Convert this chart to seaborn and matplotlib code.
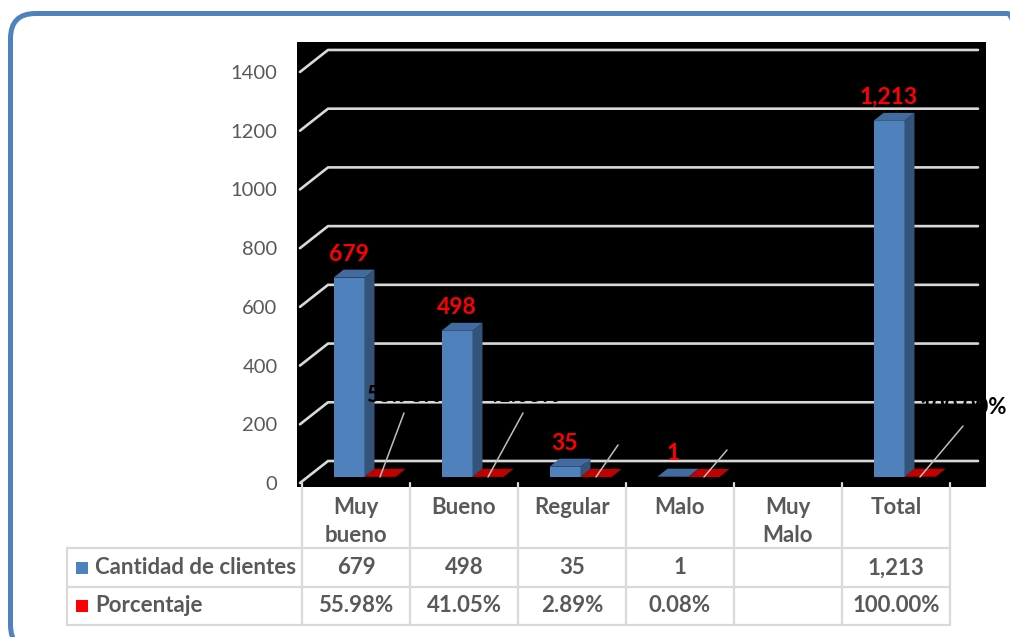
import numpy as np
import pandas as pd
import matplotlib
matplotlib.use("Agg")
import matplotlib.pyplot as plt
import seaborn as sns
from matplotlib.patches import Polygon, Rectangle, FancyBboxPatch
from matplotlib import transforms

# ---------------- data ----------------
categorias = ["Muy\nbueno", "Bueno", "Regular", "Malo", "Muy\nMalo", "Total"]
clientes = [679, 498, 35, 1, np.nan, 1213]
porcentaje = [0.5598, 0.4105, 0.0289, 0.0008, np.nan, 1.0]
series = ["Cantidad de clientes", "Porcentaje"]
colores = ["#4F81BD", "#FF0000"]
yticks = [0, 200, 400, 600, 800, 1000, 1200, 1400]

# ---------------- style ----------------
sns.set_style("white")
plt.rcParams["font.family"] = ["Lato", "DejaVu Sans"]
GRAY = "#595959"
LINE = "#d9d9d9"

W, H = 1010, 637
fig = plt.figure(figsize=(W / 100, H / 100), dpi=100)
fig.patch.set_facecolor("white")

# axes placed in pixel layout (left 297, right 986, top 42, bottom 487)
ax = fig.add_axes([297 / W, (H - 487) / H, (986 - 297) / W, (487 - 42) / H])
ax.set_facecolor("black")

PXX = 108.0      # px per category
PXY = 0.2936     # px per unit


def X(px):
    return (px - 302) / PXX - 0.5


def fy(py):
    return 1 - py / H


df = pd.DataFrame({
    "categoria": categorias * 2,
    "serie": [series[0]] * len(categorias) + [series[1]] * len(categorias),
    "valor": clientes + porcentaje,
}).dropna()

sns.barplot(data=df, x="categoria", y="valor", hue="serie", order=categorias,
            hue_order=series, palette=colores, width=0.574, dodge=True,
            saturation=1, legend=False, errorbar=None, ax=ax, zorder=3,
            linewidth=0)

ax.set_xlim(X(297), X(986))
ax.set_ylim((483 - 487) / PXY, (483 - 42) / PXY)

# back-wall gridlines
for v in yticks:
    off = 22 / PXY
    ax.plot([X(300), X(328), X(978)], [v, v + off, v + off], color=LINE,
            lw=1.9, zorder=1, solid_capstyle="round", clip_on=False)

# 3-D look for the bars
shift = 8.5 / PXX
lift = 6 / PXY
dx, dy = 10 / PXX, 8 / PXY
leader_px = {0: (24, 64), 1: (35, 64), 2: (22, 32), 3: (23, 27), 5: (43, 51)}

bars = list(ax.patches)
for p in bars:
    p.set_x(p.get_x() + shift)
    p.set_y(lift)
    fc = np.array(p.get_facecolor()[:3])
    x0 = p.get_x()
    x1 = x0 + p.get_width()
    y0 = p.get_y()
    y1 = y0 + p.get_height()
    is_blue = fc[2] > 0.5
    side = Polygon([(x1, y0), (x1 + dx, y0 + dy), (x1 + dx, y1 + dy), (x1, y1)],
                   closed=True, facecolor=fc * 0.64, edgecolor="none", zorder=3)
    top = Polygon([(x0, y1), (x1, y1), (x1 + dx, y1 + dy), (x0 + dx, y1 + dy)],
                  closed=True, facecolor=fc * (0.84 if is_blue else 0.76),
                  edgecolor="none", zorder=3)
    ax.add_patch(side)
    ax.add_patch(top)
    cx = x0 + p.get_width() / 2
    h = p.get_height()
    if is_blue:
        ax.text(cx, y1 + dy + 9 / PXY, f"{h:,.0f}", ha="center", va="baseline",
                color="#FF0000", fontsize=16.5, fontweight="bold", zorder=7)
    else:
        idx = int(round(cx - shift))
        ldx, ldy = leader_px.get(idx, (24, 40))
        xe = cx + ldx / PXX
        ye = y0 + ldy / PXY
        ax.plot([cx, xe], [y0, ye], color="#bfbfbf", lw=1.1, zorder=5)
        ax.text(xe, ye + 18 / PXY, f"{h:.2%}", ha="center", va="center",
                color="black", fontsize=16, fontweight="bold", zorder=6,
                clip_on=False)

# axes cosmetics
ax.set_yticks(yticks)
ax.set_yticklabels([str(v) for v in yticks])
ax.set_xticks([])
ax.set_xlabel("")
ax.set_ylabel("")
ax.tick_params(axis="y", length=0, pad=14, labelsize=14.5, labelcolor=GRAY)
for s in ax.spines.values():
    s.set_visible(False)

# ---------------- data table ----------------
blend = transforms.blended_transform_factory(ax.transData, fig.transFigure)
n = len(categorias)
for i in range(n + 1):
    b = i - 0.5
    ax.plot([b, b], [fy(483), fy(625)], transform=blend, color=LINE, lw=1.6,
            clip_on=False, zorder=8)
for yy in (548, 587, 625):
    ax.plot([X(67), n - 0.5], [fy(yy), fy(yy)], transform=blend, color=LINE,
            lw=1.6, clip_on=False, zorder=8)
ax.plot([X(67), X(67)], [fy(548), fy(625)], transform=blend, color=LINE,
        lw=1.6, clip_on=False, zorder=8)

tkw = dict(transform=blend, color=GRAY, fontsize=16, fontweight="bold",
           clip_on=False, zorder=9)
for i, c in enumerate(categorias):
    for k, line in enumerate(c.split("\n")):
        ax.text(i, fy(514 + 28 * k), line, ha="center", va="baseline", **tkw)

rows_y = [568, 606]
vals_fmt = [
    ["" if np.isnan(v) else f"{v:,.0f}" for v in clientes],
    ["" if np.isnan(v) else f"{v:.2%}" for v in porcentaje],
]
for r, (ry, name, col, vals) in enumerate(zip(rows_y, series, colores, vals_fmt)):
    ax.add_patch(Rectangle((X(76), fy(ry + 6)), 12 / PXX, 12 / H,
                           transform=blend, facecolor=col, edgecolor="none",
                           clip_on=False, zorder=9))
    ax.text(X(95), fy(ry), name, ha="left", va="center", **tkw)
    for i, s in enumerate(vals):
        if s:
            ax.text(i, fy(ry), s, ha="center", va="center", **tkw)

# ---------------- outer rounded frame ----------------
frame = FancyBboxPatch((0.105, -0.13), 10.22, 6.365,
                       boxstyle="round,pad=0,rounding_size=0.25",
                       transform=fig.dpi_scale_trans, fill=False,
                       edgecolor="#4F81BD", lw=3.6, zorder=20)
fig.add_artist(frame)

fig.savefig("out.png", dpi=100)
